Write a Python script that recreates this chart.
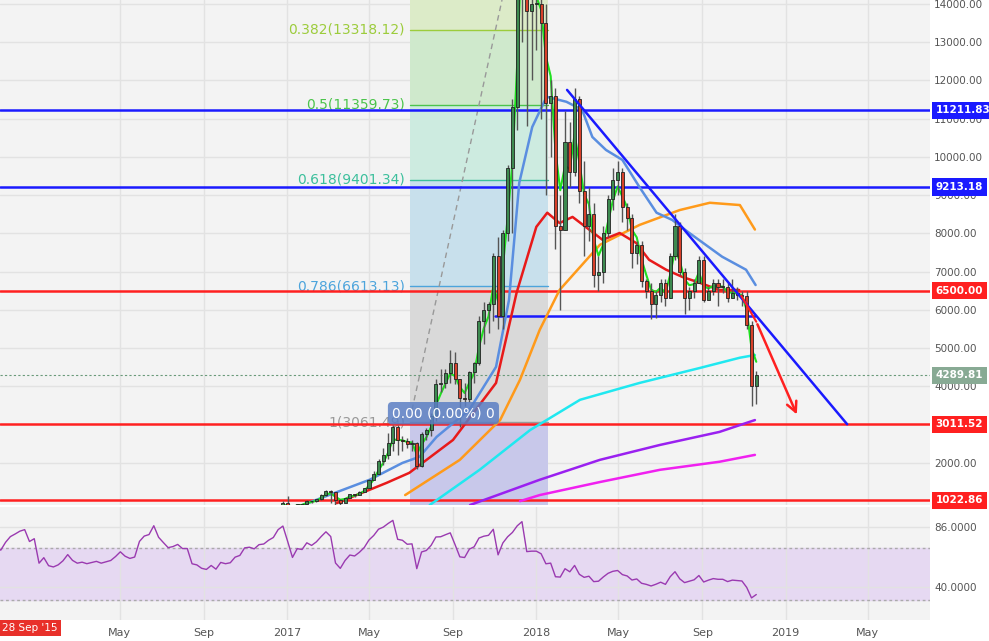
import numpy as np, pandas as pd, matplotlib
matplotlib.use("Agg")
import matplotlib.pyplot as plt, matplotlib.dates as mdates, seaborn as sns

closes = [240,250,270,285,330,380,330,325,360,395,415,440,455,430,
 450,380,410,380,375,385,405,440,420,410,415,410,415,420,415,420,425,440,460,450,445,450,530,575,590,720,680,660,640,650,670,655,655,595,590,575,570,590,575,610,605,610,640,650,700,705,700,730,735,765,790,890,960,
 900,820,920,915,1010,995,1050,1150,1270,1240,1020,960,1080,1180,1170,1240,1340,1550,1720,2050,2200,2530,2950,2600,2580,2500,2520,1910,2750,2850,3230,4070,4100,4350,4600,4200,3700,3670,4370,4600,5700,6000,6150,7400,5850,8000,9700,11300,15000,19000,13800,14000,
 14000,13500,11400,11600,8200,8100,10400,9600,11500,9100,8200,8500,6900,7000,8000,8900,9400,9600,8700,8400,7500,7700,6750,6500,6150,6400,6700,6300,7400,8200,7000,6300,6500,6700,7300,6250,6500,6700,6600,6600,6300,6450,6400,6350,5600,4000,4289.81]
highs = [1000,
 1130,910,930,930,1020,1010,1060,1200,1290,1300,1250,1050,1090,1200,1200,1260,1350,1570,1800,2100,2400,2780,3000,2980,2700,2650,2600,2550,2800,2900,3300,4200,4450,4450,4950,4900,4200,4100,4400,4650,5850,6200,6200,7500,7900,8100,9800,11500,17000,19800,19000,16000,
 17000,15000,14000,12000,11800,9000,11200,10900,11800,11600,9900,9200,8800,7400,8200,9000,9700,9900,9700,8800,8500,7800,7800,6800,6700,6500,6800,6800,7500,8500,8300,7100,6600,6800,7400,7400,6600,6800,6800,6800,6700,6800,6600,6500,6500,5700,4400]
lows = [890,
 780,750,810,880,910,960,980,1040,1130,940,890,900,1000,1070,1120,1160,1250,1400,1580,1750,1950,2100,2300,2200,2300,2400,2300,1850,1900,2600,2700,3100,3850,3950,4100,4050,2950,3500,3600,4100,4550,5100,5400,5700,5500,5500,7800,8000,10700,13000,10800,12000,
 12800,11000,9000,10000,7600,6000,8100,9200,9500,8800,7400,7800,6600,6500,6700,7900,8600,9000,8300,8100,7100,7200,6600,6300,5750,5800,6200,6100,6300,7300,6900,5900,6000,6300,6700,6200,6300,6400,6100,6450,6200,6300,6250,6100,5500,3500,3550]

blue_d = ["2017-01-24","2017-05-02","2017-06-19","2017-07-14","2017-08-08","2017-09-25","2017-11-03","2017-11-22","2017-12-07","2017-12-26",
          "2018-01-16","2018-02-14","2018-03-09","2018-03-24","2018-04-13","2018-05-07","2018-06-01","2018-06-26","2018-07-19","2018-08-13","2018-09-30","2018-11-04","2018-11-18"]
blue_v = [900,1560,2000,2160,2680,3390,4510,6260,9320,10780,11570,11440,11230,10520,10180,9920,9210,8540,8350,8010,7390,7050,6650]
red_d = ["2017-03-15","2017-05-27","2017-06-29","2017-09-01","2017-11-03","2017-12-03","2018-01-01","2018-01-17","2018-02-04","2018-02-23",
         "2018-03-20","2018-04-08","2018-05-03","2018-05-27","2018-06-15","2018-07-10","2018-08-03","2018-08-28","2018-09-26","2018-10-25"]
red_v = [950,1480,1740,2600,4090,6440,8170,8540,8270,8430,8090,7830,8010,7750,7310,7050,6860,6710,6520,6520]
orange_d = ["2017-06-23","2017-09-11","2017-11-09","2017-12-08","2018-01-06","2018-02-04","2018-04-04","2018-06-01","2018-07-30","2018-09-12","2018-10-26","2018-11-17"]
orange_v = [1160,2080,3120,4170,5480,6520,7700,8220,8610,8800,8740,8100]
cyan_d = ["2017-07-29","2017-10-10","2017-12-23","2018-03-06","2018-06-01","2018-08-28","2018-10-26","2018-11-17"]
cyan_v = [900,1820,2860,3650,4090,4480,4750,4820]
purple_d = ["2017-09-26","2018-01-06","2018-04-04","2018-07-01","2018-09-26","2018-11-17"]
purple_v = [900,1560,2080,2470,2810,3120]
magenta_d = ["2017-12-08","2018-01-06","2018-04-04","2018-07-01","2018-09-26","2018-11-17"]
magenta_v = [1000,1160,1500,1820,2030,2210]

fib_levels = [13318.12, 11359.73, 9401.34, 6613.13, 3061.49]
fib_names = ["0.382(13318.12)", "0.5(11359.73)", "0.618(9401.34)", "0.786(6613.13)", "1(3061.49)"]
hlines = [(11211.83,"#1a1aff"),(9213.18,"#1a1aff"),(6500.00,"#ff2020"),(3011.52,"#ff2020"),(1022.86,"#ff2020")]
current = 4289.81
price_ticks = [2000,4000,5000,6000,7000,8000,9000,10000,11000,12000,13000,14000]

dates = pd.date_range(end="2018-11-19", periods=len(closes), freq="7D")
df = pd.DataFrame({"date": dates, "close": closes})
df["open"] = df["close"].shift(1).fillna(df["close"])
df["ema_g"] = df["close"].ewm(span=3).mean()
d = df["close"].diff()
up = d.clip(lower=0).ewm(alpha=1/14).mean(); dn = (-d.clip(upper=0)).ewm(alpha=1/14).mean()
df["rsi"] = 100 - 100/(1+up/dn)

sns.set_theme(style="white")
plt.rcParams['font.family'] = ['DejaVu Sans']
fig = plt.figure(figsize=(9.89, 6.41), dpi=100)
W, H = 989, 641
ax = fig.add_axes([0, (641-505)/H, 930/W, 505/H])
ax2 = fig.add_axes([0, (641-620)/H, 930/W, 113/H], sharex=ax)
bg = "#f3f3f3"
for a in (ax, ax2):
    a.set_facecolor(bg)
    for s in a.spines.values(): s.set_visible(False)
    a.grid(True, color="#e2e2e2", lw=1)
    a.set_axisbelow(True)
fig.patch.set_facecolor("white")

def dn_(s): return mdates.date2num(pd.Timestamp(s))
x0 = dn_("2017-01-01")
px = lambda p: x0 + (p-287)/249.5*365.25
ax.set_xlim(px(0), px(930))
ax.set_ylim(900, 14100)

fl, fr = dn_("2017-06-30"), dn_("2018-01-18")
bands = [(13318.12,14100,"#dcebc8"),(11359.73,13318.12,"#cfe9cc"),(9401.34,11359.73,"#cdebe0"),
         (6613.13,9401.34,"#c8e0ec"),(3061.49,6613.13,"#d9d9d9"),(900,3061.49,"#c8c8ea")]
for lo, hi, c in bands:
    ax.fill_between([fl, fr], lo, hi, color=c, lw=0, zorder=1)
fcols = ["#9ccc3c","#4cc44c","#3cbf9c","#4ca4dc","#999999"]
for lv, nm, c in zip(fib_levels, fib_names, fcols):
    ax.plot([fl, fr], [lv, lv], color=c, lw=1, zorder=2)
    ax.text(px(405), lv, nm, ha="right", va="center", color=c, fontsize=10, zorder=3)
ax.plot([px(412), px(502)], [3385, 14100], color="#999999", ls=(0,(4,3)), lw=1, zorder=2)

for v, c in hlines:
    ax.axhline(v, color=c, lw=1.8, zorder=4)
ax.axhline(current, color="#6a9a7a", ls=(0,(2,2)), lw=0.8, zorder=2)
ax.plot([dn_("2017-11-02"), dn_("2018-11-17")], [5840, 5840], color="#1a1aff", lw=1.8, zorder=4)

for dd, vv, c in [(orange_d, orange_v, "#ff9a1a"), (cyan_d, cyan_v, "#20e8f0"), (purple_d, purple_v, "#9a20f0"),
                  (magenta_d, magenta_v, "#f020f0"), (red_d, red_v, "#e81a1a"), (blue_d, blue_v, "#5a8ee0")]:
    sns.lineplot(x=pd.to_datetime(dd), y=vv, ax=ax, color=c, lw=1.8, zorder=5)
sns.lineplot(data=df, x="date", y="ema_g", ax=ax, color="#20e020", lw=1.5, zorder=6)

cd = df.iloc[-len(highs):].reset_index(drop=True)
for i, r in cd.iterrows():
    xx = mdates.date2num(r["date"]); o, c = r["open"], r["close"]
    col = "#3d8a50" if c >= o else "#d8402a"
    ax.vlines(xx, lows[i], highs[i], color="#555555", lw=1, zorder=7)
    ax.bar(xx, abs(c-o) if abs(c-o) > 20 else 20, bottom=min(o, c), width=4.5,
           color=col, edgecolor="#222222", lw=0.6, zorder=8)

ax.plot([dn_("2018-02-15"), dn_("2019-04-01")], [11750, 3011], color="#1a1aff", lw=1.8, zorder=9)
ax.plot([dn_("2018-10-28"), dn_("2018-11-19")], [6370, 5690], color="#ff2020", lw=1.5, zorder=9)
ax.annotate("", xy=(dn_("2019-01-19"), 3200), xytext=(dn_("2018-11-19"), 5690),
            arrowprops=dict(arrowstyle="->", color="#ff2020", lw=1.8, mutation_scale=18), zorder=9)

ax.text(dn_("2017-08-18"), 3300, "0.00 (0.00%) 0", ha="center", va="center", color="white", fontsize=10,
        bbox=dict(boxstyle="round,pad=0.3", fc="#5b7fc4", ec="none", alpha=0.85), zorder=10)

ax.yaxis.tick_right()
ax.set_yticks(price_ticks)
ax.set_yticklabels([f"{v:.2f}" for v in price_ticks], fontsize=7.5, color="#555555")
ax.tick_params(axis="y", length=0, pad=3)
ax.tick_params(axis="x", labelbottom=False, length=0)
ax.set_xlabel(""); ax.set_ylabel("")
tags = hlines[:3] + [(current, "#88aa94")] + hlines[3:]
for v, c in tags:
    ax.text(1.006, v, f"{v:.2f}", transform=ax.get_yaxis_transform(), ha="left", va="center",
            color="white", fontsize=7.5, fontweight="bold",
            bbox=dict(boxstyle="square,pad=0.35", fc=c, ec="none"), zorder=11)

ax2.set_ylim(14.7, 101.3)
ax2.axhspan(30, 70, color="#e6d9f2", zorder=0)
ax2.axhline(70, color="#aaaaaa", ls=(0,(2,2)), lw=1)
ax2.axhline(30, color="#aaaaaa", ls=(0,(2,2)), lw=1)
sns.lineplot(data=df, x="date", y="rsi", ax=ax2, color="#9a3ab0", lw=1, zorder=3)
ax2.yaxis.tick_right()
ax2.set_yticks([40, 86]); ax2.set_yticklabels(["40.0000", "86.0000"], fontsize=7.5, color="#555555")
ax2.tick_params(axis="y", length=0, pad=3)
ax2.set_xlabel(""); ax2.set_ylabel("")
ax2.xaxis.set_major_locator(mdates.MonthLocator(bymonth=[1,5,9]))
fig.canvas.draw()
ticks = [t for t in ax2.get_xticks() if mdates.num2date(t) > mdates.num2date(px(60))]
labs = [str(mdates.num2date(t).year) if mdates.num2date(t).month == 1 else mdates.num2date(t).strftime("%b") for t in ticks]
ax2.set_xticks(ticks); ax2.set_xticklabels(labs, fontsize=8, color="#555555")
ax2.tick_params(axis="x", length=0, pad=6)
ax2.set_xlim(px(0), px(930))
fig.text(2/W, 1-628/H, "28 Sep '15", ha="left", va="center", color="white", fontsize=7.5,
         bbox=dict(boxstyle="square,pad=0.3", fc="#e8302a", ec="none"))
fig.savefig("out.png", dpi=100)
